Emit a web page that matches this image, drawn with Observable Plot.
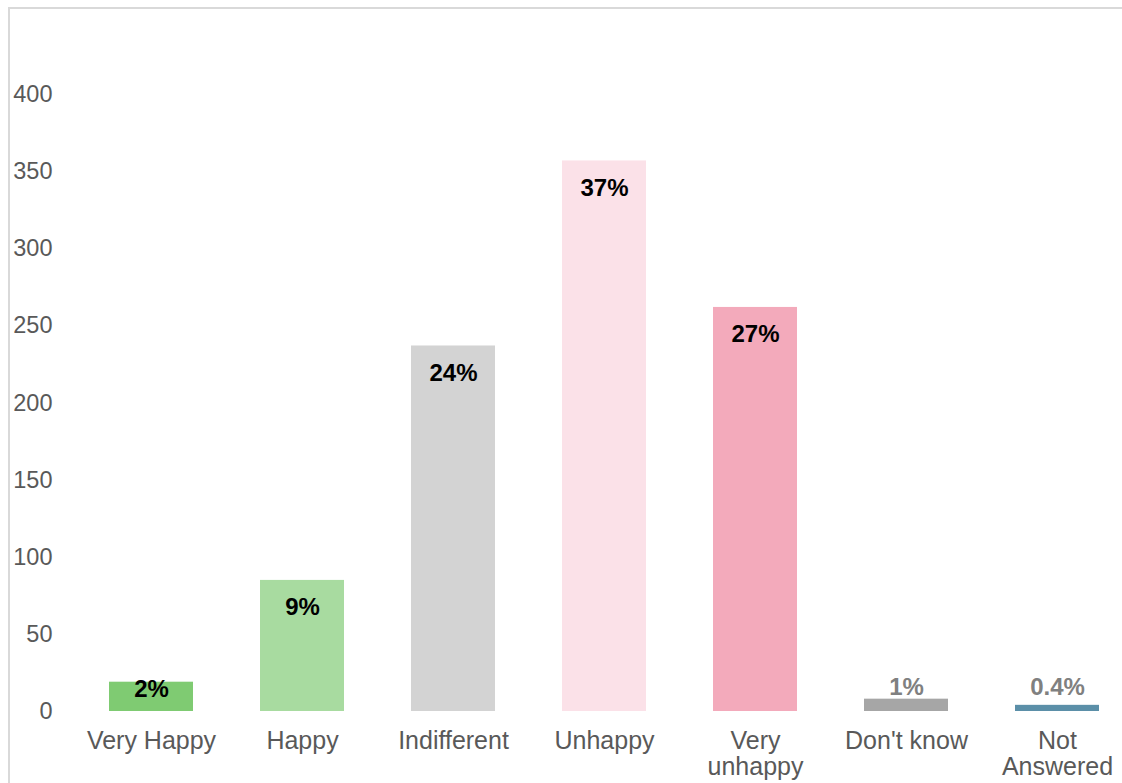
<!DOCTYPE html>
<html>
<head>
<meta charset="utf-8">
<script src="https://cdn.jsdelivr.net/npm/d3@7"></script>
<script src="https://cdn.jsdelivr.net/npm/@observablehq/plot@0.6"></script>
<style>
  html, body { margin: 0; padding: 0; background: #fff; }
  #chart { position: relative; width: 1122px; height: 783px; overflow: hidden; }
  #frame { position: absolute; left: 8px; top: 7px; width: 1130px; height: 800px; border: 2px solid #d9d9d9; box-sizing: border-box; pointer-events: none; }
  svg { display: block; }
</style>
</head>
<body>
<div id="chart"><div id="frame"></div></div>
<script>
const categories = ["Very Happy", "Happy", "Indifferent", "Unhappy", "Very unhappy", "Don't know", "Not Answered"];
const tickLabels = ["Very Happy", "Happy", "Indifferent", "Unhappy", "Very\nunhappy", "Don't know", "Not\nAnswered"];
const counts = [19, 85, 237, 357, 262, 8, 4];
const percents = ["2%", "9%", "24%", "37%", "27%", "1%", "0.4%"];
const colors = ["#7fcb72", "#a8dba0", "#d3d3d3", "#fbe1e8", "#f3aabb", "#a6a6a6", "#5b8fa8"];
const labelPlacement = ["low", "inside", "inside", "inside", "inside", "outside", "outside"];
const yTicks = [0, 50, 100, 150, 200, 250, 300, 350, 400];

const data = categories.map((c, i) => ({
  category: c, count: counts[i], pct: percents[i], color: colors[i], place: labelPlacement[i]
}));

const font = "'Liberation Sans', Arial, sans-serif";

const plot = Plot.plot({
  width: 1122,
  height: 783,
  marginTop: 17,
  marginBottom: 72,
  marginLeft: 75,
  marginRight: 0,
  style: { fontFamily: font, background: "transparent", overflow: "hidden" },
  x: { domain: categories, range: [75, 1132], paddingInner: 0.444, paddingOuter: 0.222, label: null },
  y: { domain: [0, 450], label: null },
  marks: [
    Plot.barY(data, { x: "category", y: "count", fill: "color" }),
    Plot.ruleY(yTicks.filter(d => d > 0), { x1: 75, x2: 1132, stroke: "#000", strokeOpacity: 0.055, strokeWidth: 1.5 }),
    Plot.ruleY([0], { x1: 75, x2: 1132, stroke: "#bfbfbf", strokeWidth: 2.5 }),
    Plot.axisY({ ticks: yTicks, tickSize: 0, tickPadding: 0, dx: -23, fontSize: 23.5, color: "#595959", label: null, textAnchor: "end" }),
    Plot.axisX({ tickSize: 0, tickPadding: 19, fontSize: 25, color: "#595959", label: null, lineHeight: 1.05,
      tickFormat: (d) => tickLabels[categories.indexOf(d)] }),
    Plot.text(data.filter(d => d.place === "inside"), { x: "category", y: "count", text: "pct", dy: 27, fontSize: 24, fontWeight: "bold", fill: "#000" }),
    Plot.text(data.filter(d => d.place === "low"), { x: "category", y: "count", text: "pct", dy: 7, fontSize: 24, fontWeight: "bold", fill: "#000" }),
    Plot.text(data.filter(d => d.place === "outside"), { x: "category", y: 0, text: "pct", dy: -24, fontSize: 24, fontWeight: "bold", fill: "#808080" })
  ]
});
document.getElementById("chart").insertBefore(plot, document.getElementById("frame"));
</script>
</body>
</html>
